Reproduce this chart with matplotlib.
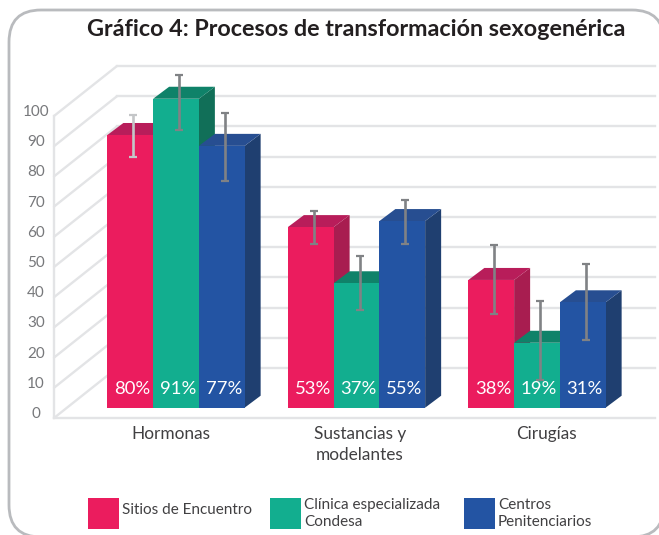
import matplotlib
matplotlib.use('Agg')
import numpy as np
import matplotlib.pyplot as plt
from matplotlib.patches import FancyBboxPatch, Rectangle

# Data. Heights are in units of the drawn 0-100 axis,
# which does not agree with the percentages printed on the bars.
categorias = ['Hormonas', 'Sustancias y\nmodelantes', 'Cirugías']
series = ['Sitios de Encuentro', 'Clínica especializada\nCondesa', 'Centros\nPenitenciarios']
ticks = [0, 10, 20, 30, 40, 50, 60, 70, 80, 90, 100]

sitios = [90.3, 59.8, 42.3]
clinica = [102.3, 41.2, 21.5]
centros = [86.7, 61.8, 34.9]
alturas = [sitios, clinica, centros]

sitios_pct = ['80%', '53%', '38%']
clinica_pct = ['91%', '37%', '19%']
centros_pct = ['77%', '55%', '31%']
etiquetas = [sitios_pct, clinica_pct, centros_pct]

sitios_err_hi = [96.8, 65.1, 53.9]
sitios_err_lo = [83.1, 54.3, 31.0]
clinica_err_hi = [110.2, 50.2, 35.4]
clinica_err_lo = [91.9, 32.5, 9.2]
centros_err_hi = [97.6, 68.9, 47.6]
centros_err_lo = [75.0, 54.3, 22.5]
err_hi = [sitios_err_hi, clinica_err_hi, centros_err_hi]
err_lo = [sitios_err_lo, clinica_err_lo, centros_err_lo]

# colours: front, top, side
frente = ['#EB1C5E', '#12AE8F', '#2354A3']
tapa = ['#B81D5A', '#0F8269', '#274E91']
lado = ['#A81D50', '#116F58', '#1F3F70']
gris_linea = '#E3E4E6'
gris_err = '#808285'
fuente = 'Lato'

W, H = 659, 535
fig = plt.figure(figsize=(W/100, H/100), dpi=100)
plt.rcParams['font.family'] = fuente

# background axes in pixels: frame, title, legend
fondo = fig.add_axes([0, 0, 1, 1])
fondo.set_xlim(0, W)
fondo.set_ylim(H, 0)
fondo.axis('off')
fondo.add_patch(FancyBboxPatch((41, 42), 591, 463, boxstyle='round,pad=32,rounding_size=32',
                               fc='white', ec='#B9BBBE', lw=2.0))
fondo.text(87, 30, 'Gráfico 4: Procesos de transformación sexogenérica', fontsize=16.8,
           fontweight='bold', color='#231F20', ha='left', va='center')

# chart axes: value units in y, one unit per category group in x
xpx = 180.5
ypx = 3.02
x0 = 176
y0 = 407.7
ax = fig.add_axes([0, 0, 1, 1])
ax.set_xlim((0-x0)/xpx, (W-x0)/xpx)
ax.set_ylim((y0-H)/ypx, y0/ypx)
ax.axis('off')
ax.patch.set_alpha(0)

# walls
xl = (54-x0)/xpx
xb = (117-x0)/xpx
xr = (655-x0)/xpx
yf = (y0-418)/ypx
yb = (y0-368)/ypx
for v in ticks:
    ax.plot([xl, xb], [yf+v, yb+v], color=gris_linea, lw=1.7, solid_capstyle='round', zorder=1)
    ax.plot([xb, xr], [yb+v, yb+v], color=gris_linea, lw=1.7, zorder=1)
    ax.text((36-x0)/xpx, yf+v+1.3, str(v), color='#77787B', fontsize=11, ha='center', va='center')
ax.plot([xl, xl], [yf, yf+100], color=gris_linea, lw=1.7, zorder=1)
ax.plot([xl, xr], [yf, yf], color=gris_linea, lw=1.7, zorder=1)

# bars with fake depth
xs = np.arange(len(categorias))
ancho = 0.2535
dx = 16/xpx
dy = 12/ypx
z = 2
for i in range(3):
    pos = xs+(i-1)*ancho
    for j in range(len(xs)):
        x1 = pos[j]-ancho/2
        x2 = pos[j]+ancho/2
        h = alturas[i][j]
        ax.fill([x2, x2+dx, x2+dx, x2], [0, dy, h+dy, h], color=lado[i], lw=0, zorder=z)
        ax.fill([x1, x2, x2+dx, x1+dx], [h, h, h+dy, h+dy], color=tapa[i], lw=0, zorder=z)
    ax.bar(pos, alturas[i], width=ancho, color=frente[i], zorder=z+0.5)
    z += 1

for i in range(3):
    pos = xs+(i-1)*ancho
    for j in range(len(xs)):
        color = '#C4C6C8' if (i == 0 and j == 0) else gris_err
        x = pos[j]+3/xpx
        ax.errorbar([x], [err_lo[i][j]], yerr=[[0], [err_hi[i][j]-err_lo[i][j]]], fmt='none',
                    ecolor=color, elinewidth=1.9, capsize=2.6, capthick=1.6, zorder=10)
        ax.text(pos[j]+2/xpx, 6.3, etiquetas[i][j], color='white', fontsize=13.3,
                ha='center', va='center', zorder=11)

# category labels
xcat = [171, 360, 546]
for x, c in zip(xcat, categorias):
    fondo.text(x, 426, c, color='#414042', fontsize=12.4, ha='center', va='top', linespacing=1.42)

# legend
xley = [88, 270, 464]
xtxt = [122, 304.5, 498]
for i in range(3):
    fondo.add_patch(Rectangle((xley[i], 498), 30.5, 30.5, fc=frente[i], ec='none'))
    fondo.text(xtxt[i], 513.5 if i > 0 else 510, series[i], color='#414042', fontsize=11,
               ha='left', va='center', linespacing=1.32)

fig.savefig('out.png', dpi=100)
